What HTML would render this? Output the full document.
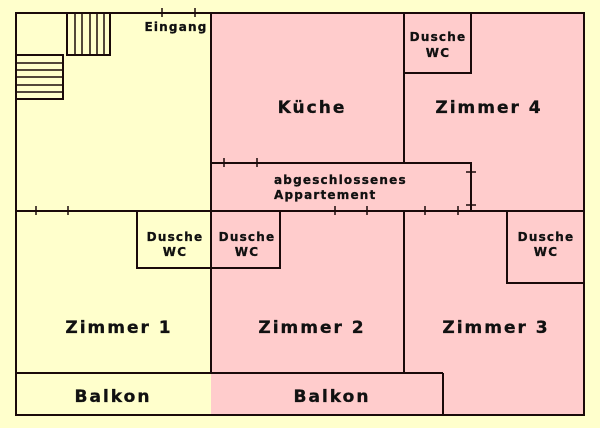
<!DOCTYPE html>
<html><head><style>body{margin:0;background:#ffffcc}svg{display:block}text{font-family:"DejaVu Sans","Liberation Sans",sans-serif;font-weight:bold;fill:#111;stroke:#111;stroke-width:0.3;text-anchor:middle}.b{font-size:17px;letter-spacing:2px}.s{font-size:12px;letter-spacing:1.2px}</style></head><body>
<svg width="600" height="428" viewBox="0 0 600 428">
<rect width="600" height="428" fill="#ffffcc"/>
<rect x="211" y="13" width="373" height="402" fill="#ffcccc"/>
<rect x="16" y="373" width="195" height="42" fill="#ffffcc"/>
<rect x="443" y="373" width="141" height="42" fill="#ffcccc"/>
<g stroke="#1a0a0a" stroke-width="2" fill="none">
<rect x="16" y="13" width="568" height="402"/>
<line x1="211" y1="13" x2="211" y2="373"/>
<line x1="16" y1="211" x2="584" y2="211"/>
<line x1="404" y1="13" x2="404" y2="163"/>
<polyline points="211,163 471,163 471,211"/>
<polyline points="404,73 471,73 471,13"/>
<line x1="404" y1="211" x2="404" y2="373"/>
<line x1="16" y1="373" x2="443" y2="373"/>
<line x1="443" y1="373" x2="443" y2="415"/>
<polyline points="137,211 137,268 280,268 280,211"/>
<polyline points="507,211 507,283 584,283"/>
<polyline points="67,13 67,55 110,55 110,13"/>
<polyline points="16,55 63,55 63,99 16,99"/>
</g>
<g stroke="#1a0a0a" stroke-width="1.5">
<line x1="75" y1="13" x2="75" y2="55"/><line x1="82" y1="13" x2="82" y2="55"/><line x1="90" y1="13" x2="90" y2="55"/><line x1="97" y1="13" x2="97" y2="55"/><line x1="104" y1="13" x2="104" y2="55"/>
<line x1="16" y1="63" x2="63" y2="63"/><line x1="16" y1="70" x2="63" y2="70"/><line x1="16" y1="77" x2="63" y2="77"/><line x1="16" y1="85" x2="63" y2="85"/><line x1="16" y1="92" x2="63" y2="92"/>
<line x1="162" y1="8" x2="162" y2="17"/><line x1="195" y1="8" x2="195" y2="17"/>
<line x1="224" y1="158" x2="224" y2="167"/><line x1="257" y1="158" x2="257" y2="167"/>
<line x1="36" y1="206" x2="36" y2="215"/><line x1="68" y1="206" x2="68" y2="215"/>
<line x1="335" y1="206" x2="335" y2="215"/><line x1="367" y1="206" x2="367" y2="215"/>
<line x1="425" y1="206" x2="425" y2="215"/><line x1="458" y1="206" x2="458" y2="215"/>
<line x1="466" y1="172" x2="476" y2="172"/><line x1="466" y1="205" x2="476" y2="205"/>
</g>
<text x="176" y="31" class="s">Eingang</text>
<text x="312" y="113" class="b">Küche</text>
<text x="489" y="113" class="b">Zimmer 4</text>
<text x="438" y="41" class="s">Dusche</text><text x="438" y="57" class="s">WC</text>
<text x="274" y="184" class="s" style="text-anchor:start">abgeschlossenes</text>
<text x="274" y="199" class="s" style="text-anchor:start">Appartement</text>
<text x="175" y="241" class="s">Dusche</text><text x="175" y="256" class="s">WC</text>
<text x="247" y="241" class="s">Dusche</text><text x="247" y="256" class="s">WC</text>
<text x="546" y="241" class="s">Dusche</text><text x="546" y="256" class="s">WC</text>
<text x="119" y="333" class="b">Zimmer 1</text>
<text x="312" y="333" class="b">Zimmer 2</text>
<text x="496" y="333" class="b">Zimmer 3</text>
<text x="113" y="402" class="b">Balkon</text>
<text x="332" y="402" class="b">Balkon</text>
</svg>
</body></html>
